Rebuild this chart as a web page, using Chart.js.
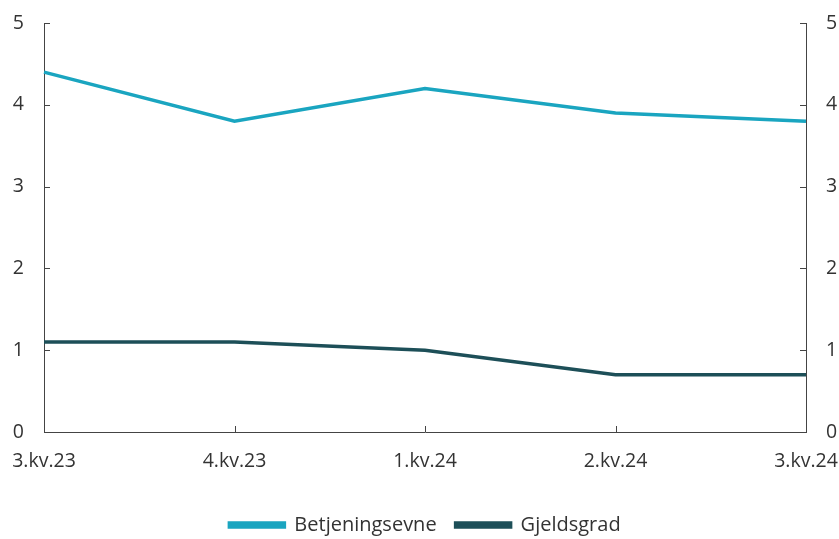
<!DOCTYPE html>
<html>
<head>
<meta charset="utf-8">
<script src="https://cdn.jsdelivr.net/npm/chart.js@4"></script>
<style>
  html, body { margin: 0; padding: 0; background: #fff; }
  #wrap { width: 839px; height: 539px; }
</style>
</head>
<body>
<div id="wrap"><canvas id="myChart"></canvas></div>
<script>
const categories = ['3.kv.23', '4.kv.23', '1.kv.24', '2.kv.24', '3.kv.24'];
const betjeningsevne = [4.4, 3.8, 4.2, 3.9, 3.8];
const gjeldsgrad = [1.1, 1.1, 1.0, 0.7, 0.7];
const yTicks = [0, 1, 2, 3, 4, 5];

const axisColor = '#444';
const textColor = '#333';
const fontSpec = { family: '"Open Sans", sans-serif', size: 19.5 };

// ticks drawn inward toward the plot area
const innerTicks = {
    id: 'innerTicks',
    afterDraw(chart) {
        const c = chart.ctx;
        const area = chart.chartArea;
        c.save();
        c.strokeStyle = axisColor;
        c.lineWidth = 1;
        c.beginPath();
        const x = chart.scales.x;
        x.ticks.forEach((t, i) => {
            const px = Math.round(x.getPixelForTick(i)) + 0.5;
            c.moveTo(px, area.bottom);
            c.lineTo(px, area.bottom - 6);
        });
        const y = chart.scales.y;
        y.ticks.forEach((t, i) => {
            const py = Math.round(y.getPixelForTick(i)) + 0.5;
            c.moveTo(area.left, py);
            c.lineTo(area.left + 6, py);
        });
        const y2 = chart.scales.y2;
        y2.ticks.forEach((t, i) => {
            const py = Math.round(y2.getPixelForTick(i)) + 0.5;
            c.moveTo(area.right, py);
            c.lineTo(area.right - 6, py);
        });
        c.stroke();
        c.restore();
    }
};

const ctx = document.getElementById('myChart').getContext('2d');

const data = {
    labels: categories,
    datasets: [
        {
            label: 'Betjeningsevne',
            data: betjeningsevne,
            borderColor: '#1aa5c0',
            backgroundColor: '#1aa5c0',
            borderWidth: 3.5,
            pointRadius: 0,
            tension: 0
        },
        {
            label: 'Gjeldsgrad',
            data: gjeldsgrad,
            borderColor: '#1d4f58',
            backgroundColor: '#1d4f58',
            borderWidth: 3.5,
            pointRadius: 0,
            tension: 0
        }
    ]
};

const yScale = (position) => ({
    position: position,
    min: 0,
    max: 5,
    afterBuildTicks: (s) => { s.ticks = yTicks.map(v => ({ value: v })); },
    afterFit: (s) => { s.width = position === 'left' ? 44 : 33; },
    grid: { display: true, drawOnChartArea: false, drawTicks: true, tickLength: 20, tickColor: 'rgba(0,0,0,0)' },
    border: { display: true, color: axisColor, width: 1 },
    ticks: { color: textColor, font: fontSpec, padding: 0 }
});

const config = {
    type: 'line',
    data: data,
    options: {
        responsive: true,
        maintainAspectRatio: false,
        animation: false,
        layout: { padding: { top: 23, left: 0, right: 0, bottom: -6 } },
        scales: {
            x: {
                offset: false,
                afterFit: (s) => { s.height = 64; },
                grid: { display: true, drawOnChartArea: false, drawTicks: true, tickLength: 18, tickColor: 'rgba(0,0,0,0)' },
                border: { display: true, color: axisColor, width: 1 },
                ticks: { color: textColor, font: fontSpec, padding: 0, maxRotation: 0, autoSkip: false }
            },
            y: yScale('left'),
            y2: yScale('right')
        },
        plugins: {
            legend: {
                position: 'bottom',
                fullSize: false,
                labels: {
                    color: textColor,
                    font: { family: '"Open Sans", sans-serif', size: 20 },
                    boxWidth: 55,
                    boxHeight: 4,
                    padding: 19
                }
            },
            tooltip: { enabled: false }
        }
    },
    plugins: [innerTicks]
};

const myChart = new Chart(ctx, config);
</script>
</body>
</html>
